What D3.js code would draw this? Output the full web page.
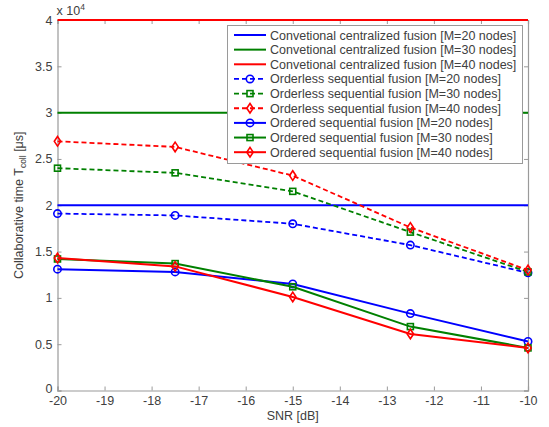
<!DOCTYPE html>
<html>
<head>
<meta charset="utf-8">
<script src="https://cdn.jsdelivr.net/npm/d3@7"></script>
<style>
  html, body { margin: 0; padding: 0; background: #fff; }
  svg { display: block; font-family: "Liberation Sans", Arial, sans-serif; }
</style>
</head>
<body>
<svg id="chart" width="549" height="427"></svg>
<script>
// SNR values where the sequential schemes were evaluated
const snr = [-20, -17.5, -15, -12.5, -10];

// Conventional centralized fusion: constant collaborative time
const centralM20 = 20000;
const centralM30 = 30000;
const centralM40 = 40000;

// Orderless sequential fusion
const orderlessM20 = [19100, 18900, 18000, 15700, 12700];
const orderlessM30 = [24000, 23500, 21500, 17100, 12800];
const orderlessM40 = [26900, 26300, 23200, 17600, 13000];

// Ordered sequential fusion
const orderedM20 = [13100, 12800, 11500, 8300, 5300];
const orderedM30 = [14200, 13700, 11200, 6900, 4600];
const orderedM40 = [14300, 13400, 10100, 6100, 4600];

const xTicks = [-20, -19, -18, -17, -16, -15, -14, -13, -12, -11, -10];
const yTicks = [0, 5000, 10000, 15000, 20000, 25000, 30000, 35000, 40000];

const legendLabels = [
  "Convetional centralized fusion [M=20 nodes]",
  "Convetional centralized fusion [M=30 nodes]",
  "Convetional centralized fusion [M=40 nodes]",
  "Orderless sequential fusion [M=20 nodes]",
  "Orderless sequential fusion [M=30 nodes]",
  "Orderless sequential fusion [M=40 nodes]",
  "Ordered sequential fusion [M=20 nodes]",
  "Ordered sequential fusion [M=30 nodes]",
  "Ordered sequential fusion [M=40 nodes]"
];

const BLUE = "#0000ff", GREEN = "#008000", RED = "#ff0000";
const AXIS = "#9a9a9a", TEXT = "#404040";
const FS = 12.5;

const series = [
  { label: legendLabels[0], color: BLUE,  dash: null, marker: null,      values: snr.map(() => centralM20) },
  { label: legendLabels[1], color: GREEN, dash: null, marker: null,      values: snr.map(() => centralM30) },
  { label: legendLabels[2], color: RED,   dash: null, marker: null,      values: snr.map(() => centralM40) },
  { label: legendLabels[3], color: BLUE,  dash: "5,3", marker: "circle",  values: orderlessM20 },
  { label: legendLabels[4], color: GREEN, dash: "5,3", marker: "square",  values: orderlessM30 },
  { label: legendLabels[5], color: RED,   dash: "5,3", marker: "diamond", values: orderlessM40 },
  { label: legendLabels[6], color: BLUE,  dash: null, marker: "circle",  values: orderedM20 },
  { label: legendLabels[7], color: GREEN, dash: null, marker: "square",  values: orderedM30 },
  { label: legendLabels[8], color: RED,   dash: null, marker: "diamond", values: orderedM40 }
];

const svg = d3.select("#chart");
const W = 549, H = 427;
const m = { left: 57.5, right: W - 528, top: 20, bottom: H - 390.5 };

const x = d3.scaleLinear().domain([-20, -10]).range([m.left, W - m.right]);
const y = d3.scaleLinear().domain([0, 40000]).range([H - m.bottom, m.top]);

// axes (ticks point inward, boxed)
const tickLen = 4;
const hyphen = s => s.replace("\u2212", "-");
const xAxisB = svg.append("g").attr("transform", `translate(0,${y(0)})`)
  .call(d3.axisBottom(x).tickValues(xTicks).tickSize(-tickLen).tickPadding(6)
    .tickFormat(d => hyphen(d3.format("d")(d))));
const xAxisT = svg.append("g").attr("transform", `translate(0,${y(40000)})`)
  .call(d3.axisTop(x).tickValues(xTicks).tickSize(-tickLen).tickFormat(""));
const yFmt = d => d === 0 ? "0" : (d / 10000).toString();
const yAxisL = svg.append("g").attr("transform", `translate(${x(-20)},0)`)
  .call(d3.axisLeft(y).tickValues(yTicks).tickSize(-tickLen).tickPadding(5).tickFormat(yFmt));
const yAxisR = svg.append("g").attr("transform", `translate(${x(-10)},0)`)
  .call(d3.axisRight(y).tickValues(yTicks).tickSize(-tickLen).tickFormat(""));

[xAxisB, xAxisT, yAxisL, yAxisR].forEach(g => {
  g.select(".domain").attr("stroke", AXIS).attr("stroke-width", 1.2);
  g.selectAll(".tick line").attr("stroke", AXIS);
  g.selectAll(".tick text").attr("fill", TEXT).attr("font-size", FS)
    .attr("font-family", "Liberation Sans, Arial, sans-serif");
});
// lift the y "0" label slightly so it clears the x "-20" label below it
yAxisL.selectAll(".tick text").filter(d => d === 0).attr("y", -2);

// scale multiplier above the y axis
const mult = svg.append("text").attr("x", x(-20) - 1).attr("y", 15)
  .attr("fill", TEXT).attr("font-size", FS);
mult.append("tspan").text("x 10");
mult.append("tspan").attr("font-size", 8.5).attr("dy", -5).text("4");

// axis titles
svg.append("text").attr("x", (x(-20) + x(-10)) / 2).attr("y", 420)
  .attr("text-anchor", "middle").attr("fill", TEXT).attr("font-size", FS)
  .text("SNR [dB]");

const yl = svg.append("text")
  .attr("transform", `translate(23,${(y(0) + y(40000)) / 2}) rotate(-90)`)
  .attr("text-anchor", "middle").attr("fill", TEXT).attr("font-size", FS);
yl.append("tspan").text("Collaborative time T");
yl.append("tspan").attr("font-size", 8.5).attr("dy", 3).text("coll");
yl.append("tspan").attr("dy", -3).text(" [\u03bcs]");

// open markers
function drawMarker(g, type, cx, cy, color) {
  if (type === "circle") {
    g.append("circle").attr("cx", cx).attr("cy", cy).attr("r", 3.7)
      .attr("fill", "none").attr("stroke", color).attr("stroke-width", 1.6);
  } else if (type === "square") {
    g.append("rect").attr("x", cx - 3).attr("y", cy - 3).attr("width", 6).attr("height", 6)
      .attr("fill", "none").attr("stroke", color).attr("stroke-width", 1.6);
  } else if (type === "diamond") {
    g.append("path").attr("d", `M${cx},${cy - 4.8}L${cx + 3.2},${cy}L${cx},${cy + 4.8}L${cx - 3.2},${cy}Z`)
      .attr("fill", "none").attr("stroke", color).attr("stroke-width", 1.6);
  }
}

const line = d3.line().x(d => x(d[0])).y(d => y(d[1]));
const plot = svg.append("g");
series.forEach(s => {
  const pts = snr.map((v, i) => [v, s.values[i]]);
  plot.append("path").attr("d", line(pts))
    .attr("fill", "none").attr("stroke", s.color)
    .attr("stroke-width", s.dash ? 1.8 : 2)
    .attr("stroke-dasharray", s.dash);
  if (s.marker) pts.forEach(p => drawMarker(plot, s.marker, x(p[0]), y(p[1]), s.color));
});

// legend
const lg = svg.append("g");
const lx = 227.5, ly = 25.5, lw = 295, lh = 138;
lg.append("rect").attr("x", lx).attr("y", ly).attr("width", lw).attr("height", lh)
  .attr("fill", "#fff").attr("stroke", AXIS).attr("stroke-width", 1);
series.forEach((s, i) => {
  const ry = 35 + i * 14.65;
  lg.append("line").attr("x1", 234).attr("x2", 266).attr("y1", ry).attr("y2", ry)
    .attr("stroke", s.color).attr("stroke-width", s.dash ? 1.8 : 2)
    .attr("stroke-dasharray", s.dash);
  if (s.marker) drawMarker(lg, s.marker, 250, ry, s.color);
  lg.append("text").attr("x", 270).attr("y", ry + 4.5).attr("fill", TEXT)
    .attr("font-size", FS).text(s.label);
});
</script>
</body>
</html>
